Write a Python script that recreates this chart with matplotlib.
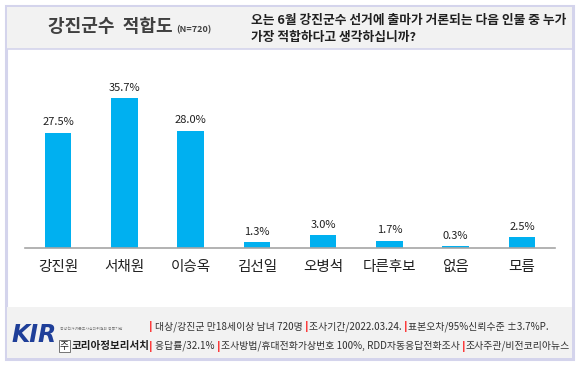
import matplotlib
matplotlib.use("Agg")
import matplotlib.pyplot as plt
from matplotlib.patches import Rectangle

plt.rcParams["font.family"] = ["Noto Sans CJK KR", "DejaVu Sans"]

candidates = ["강진원", "서채원", "이승옥", "김선일", "오병석", "다른후보", "없음", "모름"]
shares = [27.5, 35.7, 28.0, 1.3, 3.0, 1.7, 0.3, 2.5]
value_labels = ["27.5%", "35.7%", "28.0%", "1.3%", "3.0%", "1.7%", "0.3%", "2.5%"]

title = "강진군수  적합도"
sample_note = "(N=720)"
question = ["오는 6월 강진군수 선거에 출마가 거론되는 다음 인물 중 누가",
            "가장 적합하다고 생각하십니까?"]
footer_lines = [
    ["대상/강진군 만18세이상 남녀 720명 ", "조사기간/2022.03.24. ", "표본오차/95%신뢰수준 ±3.7%P."],
    ["응답률/32.1% ", "조사방법/휴대전화가상번호 100%, RDD자동응답전화조사 ", "조사주관/비전코리아뉴스"],
]

W, H = 580, 366
fig = plt.figure(figsize=(W / 100, H / 100), dpi=100)


def fx(x):
    return x / W


def fy(y):
    return 1 - y / H


def box(x0, y0, x1, y1, **kw):
    fig.add_artist(Rectangle((fx(x0), fy(y1)), fx(x1) - fx(x0), fy(y0) - fy(y1),
                             transform=fig.transFigure, **kw))


# frame, header band, footer band
box(6, 6, 573, 359, facecolor="white", edgecolor="#D4D4EC", linewidth=2.2, zorder=0)
box(7, 7, 572, 49, facecolor="#F2F2F2", edgecolor="none", zorder=1)
fig.add_artist(plt.Line2D([fx(7), fx(572)], [fy(49), fy(49)], transform=fig.transFigure,
                          color="#D4D4EC", linewidth=1.2, zorder=2))
box(7, 307, 572, 358, facecolor="#F2F2F2", edgecolor="none", zorder=1)

fig.text(fx(48), fy(27), title, fontsize=13, fontweight="bold", color="#404040",
         va="center", ha="left", zorder=3)
fig.text(fx(176), fy(30), sample_note, fontsize=6.5, fontweight="bold", color="#404040",
         va="center", ha="left", zorder=3)
fig.text(fx(251), fy(20), question[0], fontsize=9.2, fontweight="bold", color="#202020",
         va="center", ha="left", zorder=3)
fig.text(fx(251), fy(37), question[1], fontsize=9.2, fontweight="bold", color="#202020",
         va="center", ha="left", zorder=3)

# chart
ax = fig.add_axes([fx(25), fy(247.7), fx(555) - fx(25), fy(60) - fy(247.7)])
x = range(len(candidates))
ax.bar(x, shares, width=0.4, color="#00B0F0", zorder=2)
for i, (v, lab) in enumerate(zip(shares, value_labels)):
    ax.annotate(lab, (i, v), xytext=(0, 4), textcoords="offset points",
                ha="center", va="bottom", fontsize=8, color="#202020")
ax.set_xlim(-0.5, len(candidates) - 0.5)
ax.set_ylim(0, 44.85)
ax.set_xticks(list(x))
ax.set_xticklabels(candidates, fontsize=10.5, color="#202020")
ax.tick_params(axis="x", length=0, pad=9)
ax.set_yticks([])
for s in ["top", "left", "right"]:
    ax.spines[s].set_visible(False)
ax.spines["bottom"].set_color("#A6A6A6")
ax.spines["bottom"].set_linewidth(1.2)
ax.patch.set_alpha(0)

# footer: logo
fig.text(fx(12), fy(335), "KIR", fontsize=17, fontweight="bold", fontstyle="italic",
         color="#1F3F99", va="center", ha="left", family="DejaVu Sans", zorder=3)
fig.text(fx(60), fy(329), "중앙선거여론조사심의위원회 등록기관", fontsize=2.8, color="#808080",
         va="center", ha="left", zorder=3)
fig.text(fx(60), fy(346), "주", fontsize=7, color="#202020", va="center", ha="left", zorder=3,
         bbox=dict(boxstyle="square,pad=0.1", facecolor="white", edgecolor="#606060", linewidth=0.6))
fig.text(fx(72), fy(346), "코리아정보리서치", fontsize=7.6, fontweight="bold", color="#202020",
         va="center", ha="left", zorder=3)

# footer: survey details
renderer = fig.canvas.get_renderer()
for row, ypix in zip(footer_lines, [327, 346]):
    xpix = 149
    for k, seg in enumerate(row):
        fig.text(fx(xpix), fy(ypix), "|", fontsize=7, fontweight="bold", color="#FF0000",
                 va="center", ha="left", zorder=3, family="DejaVu Sans")
        xpix += 4 if k else 6
        t = fig.text(fx(xpix), fy(ypix), seg, fontsize=7.1, color="#303030",
                     va="center", ha="left", zorder=3)
        bb = t.get_window_extent(renderer=renderer)
        xpix += bb.width

fig.savefig("out.png", dpi=100)
